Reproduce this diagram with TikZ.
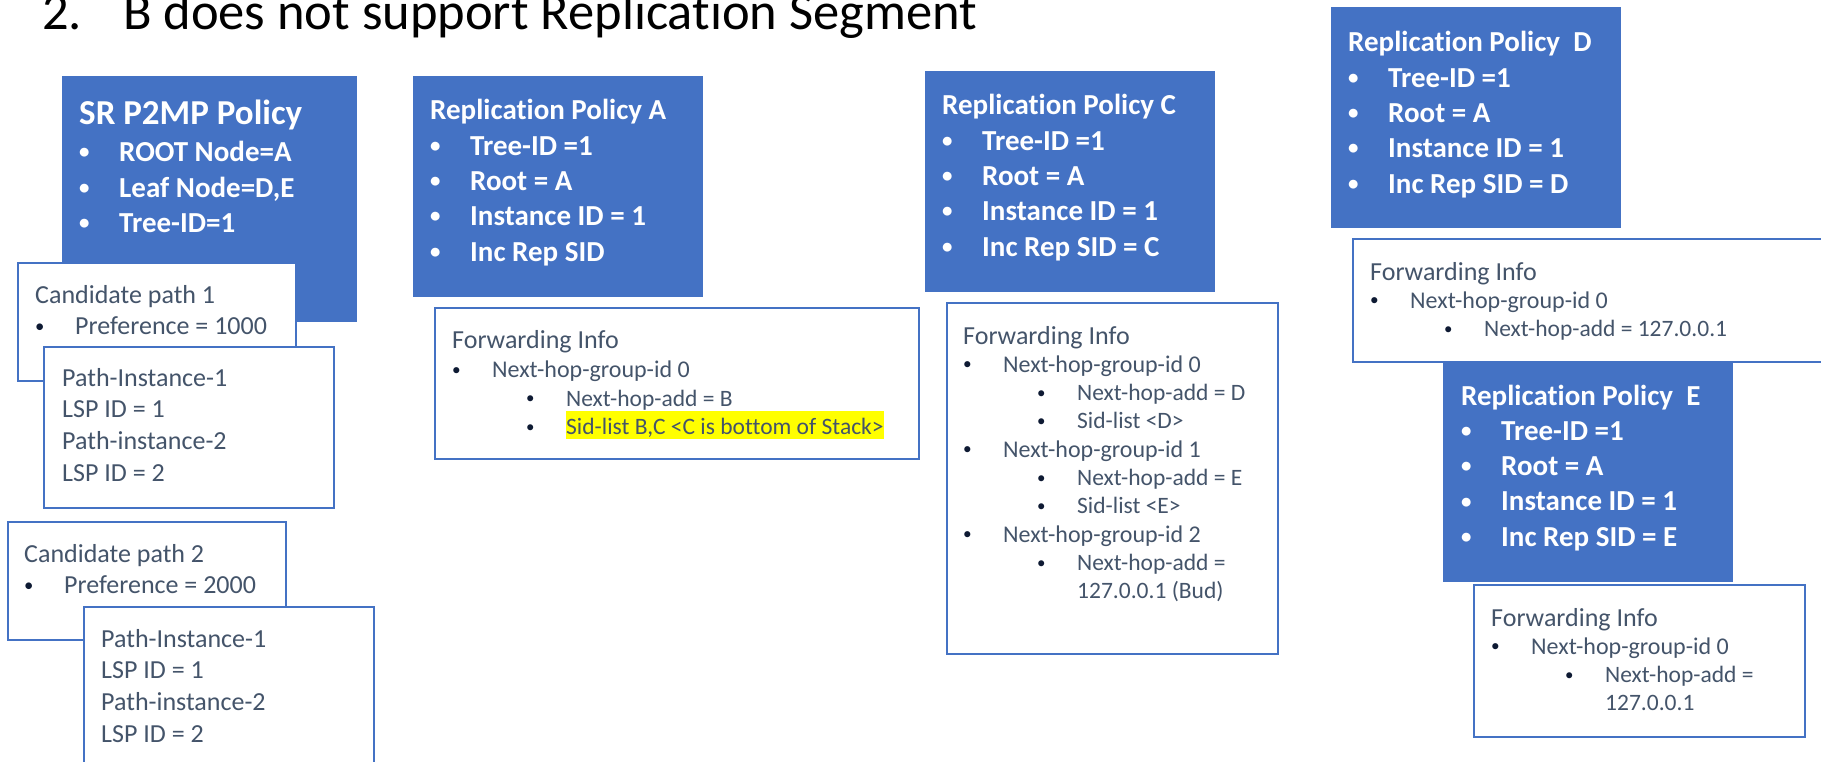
\documentclass[tikz,border=0pt]{standalone}
\usepackage{xcolor}
\usepackage{tikz}
\usepackage{fontspec}
\setmainfont{Carlito}[Ligatures=NoCommon]
\definecolor{boxblue}{HTML}{4472C4}
\definecolor{textslate}{HTML}{44546A}
\definecolor{bulletnavy}{HTML}{0E1A33}
\definecolor{hilite}{HTML}{FFFF00}

\newcommand{\titlefont}{\fontsize{52.5}{56}\selectfont}
\newcommand{\policyfont}{\fontsize{29}{35.3}\selectfont\bfseries}
\newcommand{\candfont}{\fontsize{26}{31.8}\selectfont}
\newcommand{\fwdhead}{\fontsize{26}{28.3}\selectfont}
\newcommand{\fwdone}{\fontsize{24}{28.3}\selectfont}
\newcommand{\fwdtwo}{\fontsize{23.5}{28.3}\selectfont}
\newcommand{\dotmark}{\raisebox{0.1em}{\scalebox{0.72}{\textbullet}}}
\newcommand{\wbul}[1]{\makebox[40pt][l]{\dotmark}#1}
\newcommand{\lvlone}[1]{{\fwdone\makebox[40pt][l]{\textcolor{bulletnavy}{\dotmark}}#1}}
\newcommand{\lvltwo}[1]{{\fwdtwo\hspace*{74pt}\makebox[40pt][l]{\textcolor{bulletnavy}{\dotmark}}#1}}
\newcommand{\lvlcont}[1]{{\fwdtwo\hspace*{114pt}#1}}
\newcommand{\candone}[1]{\makebox[40pt][l]{\textcolor{bulletnavy}{\dotmark}}#1}

\tikzset{
  policy/.style={fill=boxblue, anchor=north west, inner sep=0pt},
  infobox/.style={draw=boxblue, line width=2pt, fill=white, anchor=north west, inner sep=0pt},
  boxtext/.style={anchor=base west, inner sep=0pt},
}

\begin{document}
\begin{tikzpicture}[x=1pt, y=-1pt]
  \useasboundingbox (0,0) rectangle (1821,762);
  \fill[white] (0,0) rectangle (1821,762);
  \clip (0,0) rectangle (1821,762);

  \node[boxtext] (title) at (42,30) {\titlefont\makebox[81pt][l]{2.}B does not support Replication Segment};

  % SR policy with its candidate paths
  \node[policy, minimum width=295pt, minimum height=246pt] (srpolicy) at (62,76) {};
  \node[boxtext, text=white] (srtext) at (79,125) {\begin{minipage}[t]{270pt}\policyfont
    {\fontsize{35}{35.3}\selectfont SR P2MP Policy}\\[1.5pt]
    \wbul{ROOT Node=A}\\
    \wbul{Leaf Node=D,E}\\
    \wbul{Tree-ID=1}
  \end{minipage}};

  \node[infobox, minimum width=278pt, minimum height=118pt] (cand1) at (17,262) {};
  \node[boxtext, text=textslate] (cand1text) at (35,303) {\begin{minipage}[t]{250pt}\candfont
    Candidate path 1\\
    \candone{Preference = 1000}
  \end{minipage}};

  \node[infobox, minimum width=290pt, minimum height=161pt] (path1) at (43,346) {};
  \node[boxtext, text=textslate] (path1text) at (62,386) {\begin{minipage}[t]{250pt}\candfont
    Path-Instance-1\\
    LSP ID = 1\\
    Path-instance-2\\
    LSP ID = 2
  \end{minipage}};

  \node[infobox, minimum width=278pt, minimum height=118pt] (cand2) at (7,521) {};
  \node[boxtext, text=textslate] (cand2text) at (24,562) {\begin{minipage}[t]{250pt}\candfont
    Candidate path 2\\
    \candone{Preference = 2000}
  \end{minipage}};

  \node[infobox, minimum width=290pt, minimum height=200pt] (path2) at (83,606) {};
  \node[boxtext, text=textslate] (path2text) at (101,647) {\begin{minipage}[t]{250pt}\candfont
    Path-Instance-1\\
    LSP ID = 1\\
    Path-instance-2\\
    LSP ID = 2
  \end{minipage}};

  % replication policy A
  \node[policy, minimum width=290pt, minimum height=221pt] (repA) at (413,76) {};
  \node[boxtext, text=white] (repAtext) at (430,120) {\begin{minipage}[t]{270pt}\policyfont
    Replication Policy A\\
    \wbul{Tree-ID =1}\\
    \wbul{Root = A}\\
    \wbul{Instance ID = 1}\\
    \wbul{Inc Rep SID}
  \end{minipage}};

  \node[infobox, minimum width=484pt, minimum height=151pt] (fwdA) at (434,307) {};
  \node[boxtext, text=textslate] (fwdAtext) at (452,348) {\begin{minipage}[t]{450pt}\fwdhead
    Forwarding Info\\[1.5pt]
    \lvlone{Next-hop-group-id 0}\\
    \lvltwo{Next-hop-add = B}\\
    \lvltwo{{\setlength\fboxsep{0pt}\colorbox{hilite}{\rule[-5pt]{0pt}{28pt}Sid-list B,C <C is bottom of Stack>}}}
  \end{minipage}};

  % replication policy C
  \node[policy, minimum width=290pt, minimum height=221pt] (repC) at (925,71) {};
  \node[boxtext, text=white] (repCtext) at (942,115) {\begin{minipage}[t]{270pt}\policyfont
    Replication Policy C\\
    \wbul{Tree-ID =1}\\
    \wbul{Root = A}\\
    \wbul{Instance ID = 1}\\
    \wbul{Inc Rep SID = C}
  \end{minipage}};

  \node[infobox, minimum width=331pt, minimum height=351pt] (fwdC) at (946,302) {};
  \node[boxtext, text=textslate] (fwdCtext) at (963,344) {\begin{minipage}[t]{300pt}\fwdhead
    Forwarding Info\\
    \lvlone{Next-hop-group-id 0}\\
    \lvltwo{Next-hop-add = D}\\
    \lvltwo{Sid-list <D>}\\
    \lvlone{Next-hop-group-id 1}\\
    \lvltwo{Next-hop-add = E}\\
    \lvltwo{Sid-list <E>}\\
    \lvlone{Next-hop-group-id 2}\\
    \lvltwo{Next-hop-add =}\\
    \lvlcont{127.0.0.1 (Bud)}
  \end{minipage}};

  % replication policies D and E
  \node[policy, minimum width=290pt, minimum height=221pt] (repD) at (1331,7) {};
  \node[boxtext, text=white] (repDtext) at (1348,52) {\begin{minipage}[t]{270pt}\policyfont
    Replication Policy\ \ D\\
    \wbul{Tree-ID =1}\\
    \wbul{Root = A}\\
    \wbul{Instance ID = 1}\\
    \wbul{Inc Rep SID = D}
  \end{minipage}};

  \node[policy, minimum width=290pt, minimum height=220pt] (repE) at (1443,362) {};
  \node[boxtext, text=white] (repEtext) at (1461,405) {\begin{minipage}[t]{270pt}\policyfont
    Replication Policy\ \ E\\
    \wbul{Tree-ID =1}\\
    \wbul{Root = A}\\
    \wbul{Instance ID = 1}\\
    \wbul{Inc Rep SID = E}
  \end{minipage}};

  \node[infobox, minimum width=490pt, minimum height=123pt] (fwdD) at (1352,238) {};
  \node[boxtext, text=textslate] (fwdDtext) at (1370,280) {\begin{minipage}[t]{440pt}\fwdhead
    Forwarding Info\\
    \lvlone{Next-hop-group-id 0}\\
    \lvltwo{Next-hop-add = 127.0.0.1}
  \end{minipage}};

  \node[infobox, minimum width=331pt, minimum height=152pt] (fwdE) at (1473,584) {};
  \node[boxtext, text=textslate] (fwdEtext) at (1491,626) {\begin{minipage}[t]{300pt}\fwdhead
    Forwarding Info\\
    \lvlone{Next-hop-group-id 0}\\
    \lvltwo{Next-hop-add =}\\
    \lvlcont{127.0.0.1}
  \end{minipage}};
\end{tikzpicture}
\end{document}
